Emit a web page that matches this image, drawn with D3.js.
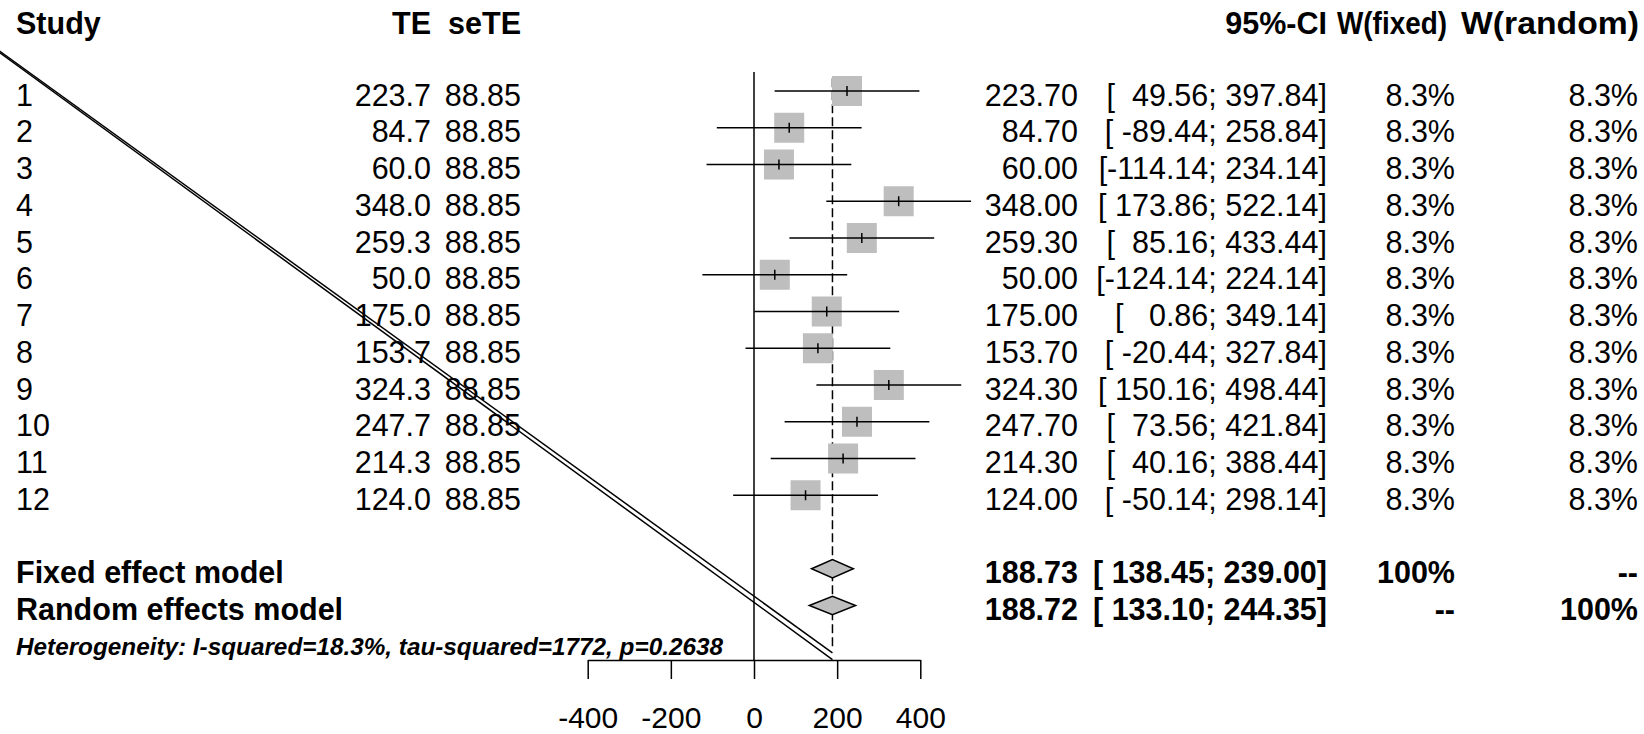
<!DOCTYPE html>
<html>
<head>
<meta charset="utf-8">
<script src="https://cdn.jsdelivr.net/npm/d3@7"></script>
<style>
  html, body { margin: 0; padding: 0; background: #fff; }
  svg text { font-family: "Liberation Sans", Arial, sans-serif; white-space: pre; fill: #000; }
</style>
</head>
<body>
<svg id="chart" width="1644" height="734"></svg>
<script>
// study level data
const studies = ["1", "2", "3", "4", "5", "6", "7", "8", "9", "10", "11", "12"];
const te = [223.7, 84.7, 60.0, 348.0, 259.3, 50.0, 175.0, 153.7, 324.3, 247.7, 214.3, 124.0];
const seTE = [88.85, 88.85, 88.85, 88.85, 88.85, 88.85, 88.85, 88.85, 88.85, 88.85, 88.85, 88.85];
const lower = [49.56, -89.44, -114.14, 173.86, 85.16, -124.14, 0.86, -20.44, 150.16, 73.56, 40.16, -50.14];
const upper = [397.84, 258.84, 234.14, 522.14, 433.44, 224.14, 349.14, 327.84, 498.44, 421.84, 388.44, 298.14];
const wFixed = [8.3, 8.3, 8.3, 8.3, 8.3, 8.3, 8.3, 8.3, 8.3, 8.3, 8.3, 8.3];
const wRandom = [8.3, 8.3, 8.3, 8.3, 8.3, 8.3, 8.3, 8.3, 8.3, 8.3, 8.3, 8.3];

// pooled estimates
const pooledNames = ["Fixed effect model", "Random effects model"];
const pooledTE = [188.73, 188.72];
const pooledLower = [138.45, 133.10];
const pooledUpper = [239.00, 244.35];
const pooledWFixed = ["100%", "--"];
const pooledWRandom = ["--", "100%"];
const heterogeneity = "Heterogeneity: I-squared=18.3%, tau-squared=1772, p=0.2638";

const headers = ["Study", "TE", "seTE", "95%-CI", "W(fixed)", "W(random)"];
const xTicks = [-400, -200, 0, 200, 400];

// stray double line (data units: TE, row)
const diagonal = [
  {x0: -1815, r0: -1.09, x1: 188.73, r1: 15.29},
  {x0: -1815, r0: -1.05, x1: 188.73, r1: 15.47}
];

const svg = d3.select("#chart");
const FS = 30.5;

const x = d3.scaleLinear().domain([-400, 400]).range([587.7, 920.3]);
const row = d3.scaleLinear().domain([0, 1]).range([91, 127.75]);
const box = d3.scaleSqrt().domain([0, 8.3]).range([0, 30]);
const axisY = 660;
const base = 14.5; // text baseline below row centre

// plain hyphen for negatives, like R
const fix = f => v => f(v).replace("\u2212", "-");
const fmt1 = fix(d3.format(".1f")), fmt2 = fix(d3.format(".2f"));
const pad = (s, n) => " ".repeat(Math.max(0, n - s.length)) + s;
const ciText = (l, u) => "[" + pad(fmt2(l), 7) + "; " + pad(fmt2(u), 6) + "]";

// columns: text x positions
const col = {study: 16, te: 431, se: 521, est: 1078, ci: 1327, wf: 1455, wr: 1638};

function txt(g, xp, yp, s, anchor, weight, style, size) {
  return g.append("text")
    .attr("x", xp).attr("y", yp)
    .attr("text-anchor", anchor)
    .attr("font-size", size || FS)
    .attr("font-weight", weight || "normal")
    .attr("font-style", style || "normal")
    .text(s);
}

// headers
const hy = row(-2) + base + 2;
const gh = svg.append("g");
txt(gh, col.study, hy, headers[0], "start", "bold");
txt(gh, col.te, hy, headers[1], "end", "bold");
txt(gh, col.se, hy, headers[2], "end", "bold");
txt(gh, col.ci, hy, headers[3], "end", "bold");
// weight headers sit in fixed boxes
[[headers[4], 1447, 110], [headers[5], 1639, 178]].forEach(([s, r, w]) => {
  txt(gh, r - w, hy, s, "start", "bold")
    .attr("textLength", w).attr("lengthAdjust", "spacingAndGlyphs");
});

// reference lines
svg.append("line")
  .attr("x1", x(0)).attr("x2", x(0))
  .attr("y1", row(-0.52)).attr("y2", axisY)
  .attr("stroke", "#000").attr("stroke-width", 1.5);
svg.append("line")
  .attr("x1", x(pooledTE[0])).attr("x2", x(pooledTE[0]))
  .attr("y1", row(-0.35)).attr("y2", row(15.2))
  .attr("stroke", "#000").attr("stroke-width", 1.5)
  .attr("stroke-dasharray", "9,4");

// study rows
const gs = svg.selectAll("g.study").data(studies).enter().append("g").attr("class", "study");
gs.each(function(d, i) {
  const g = d3.select(this);
  const yc = row(i);
  txt(g, col.study, yc + base, d, "start");
  txt(g, col.te, yc + base, fmt1(te[i]), "end");
  txt(g, col.se, yc + base, fmt2(seTE[i]), "end");
  txt(g, col.est, yc + base, fmt2(te[i]), "end");
  txt(g, col.ci, yc + base, ciText(lower[i], upper[i]), "end");
  txt(g, col.wf, yc + base, fmt1(wFixed[i]) + "%", "end");
  txt(g, col.wr, yc + base, fmt1(wRandom[i]) + "%", "end");

  const s = box(wFixed[i]);
  g.append("rect")
    .attr("x", x(te[i]) - s / 2).attr("y", yc - s / 2)
    .attr("width", s).attr("height", s)
    .attr("fill", "#bebebe");
  g.append("line")
    .attr("x1", x(lower[i])).attr("x2", x(upper[i]))
    .attr("y1", yc).attr("y2", yc)
    .attr("stroke", "#000").attr("stroke-width", 1.5);
  g.append("line")
    .attr("x1", x(te[i])).attr("x2", x(te[i]))
    .attr("y1", yc - 5).attr("y2", yc + 5)
    .attr("stroke", "#000").attr("stroke-width", 1.5);
});

// pooled rows
pooledNames.forEach((name, k) => {
  const yc = row(13 + k);
  const g = svg.append("g");
  txt(g, col.study, yc + base, name, "start", "bold");
  txt(g, col.est, yc + base, fmt2(pooledTE[k]), "end", "bold");
  txt(g, col.ci, yc + base, "[" + pad(fmt2(pooledLower[k]), 7) + "; " + fmt2(pooledUpper[k]) + "]", "end", "bold");
  txt(g, col.wf, yc + base, pooledWFixed[k], "end", "bold");
  txt(g, col.wr, yc + base, pooledWRandom[k], "end", "bold");
  const h = 9.2;
  g.append("path")
    .attr("d", `M${x(pooledLower[k])},${yc} L${x(pooledTE[k])},${yc - h} L${x(pooledUpper[k])},${yc} L${x(pooledTE[k])},${yc + h} Z`)
    .attr("fill", "#bebebe").attr("stroke", "#000").attr("stroke-width", 1.5);
});

// heterogeneity
txt(svg, col.study, row(15) + 13, heterogeneity, "start", "bold", "italic", 24.3);

// stray double line
svg.selectAll("line.diag").data(diagonal).enter().append("line")
  .attr("class", "diag")
  .attr("x1", d => x(d.x0)).attr("y1", d => row(d.r0))
  .attr("x2", d => x(d.x1)).attr("y2", d => row(d.r1))
  .attr("stroke", "#000").attr("stroke-width", 1.5);

// x axis
const ax = svg.append("g")
  .attr("transform", `translate(0,${axisY})`)
  .call(d3.axisBottom(x).tickValues(xTicks).tickSize(19).tickSizeOuter(0).tickPadding(28).tickFormat(fix(d3.format("d"))));
ax.select(".domain").attr("stroke", "#000").attr("stroke-width", 1.5);
ax.selectAll(".tick line").attr("stroke", "#000").attr("stroke-width", 1.5);
ax.selectAll(".tick text")
  .attr("font-family", "Liberation Sans, Arial, sans-serif")
  .attr("font-size", 30).attr("fill", "#000");
</script>
</body>
</html>
